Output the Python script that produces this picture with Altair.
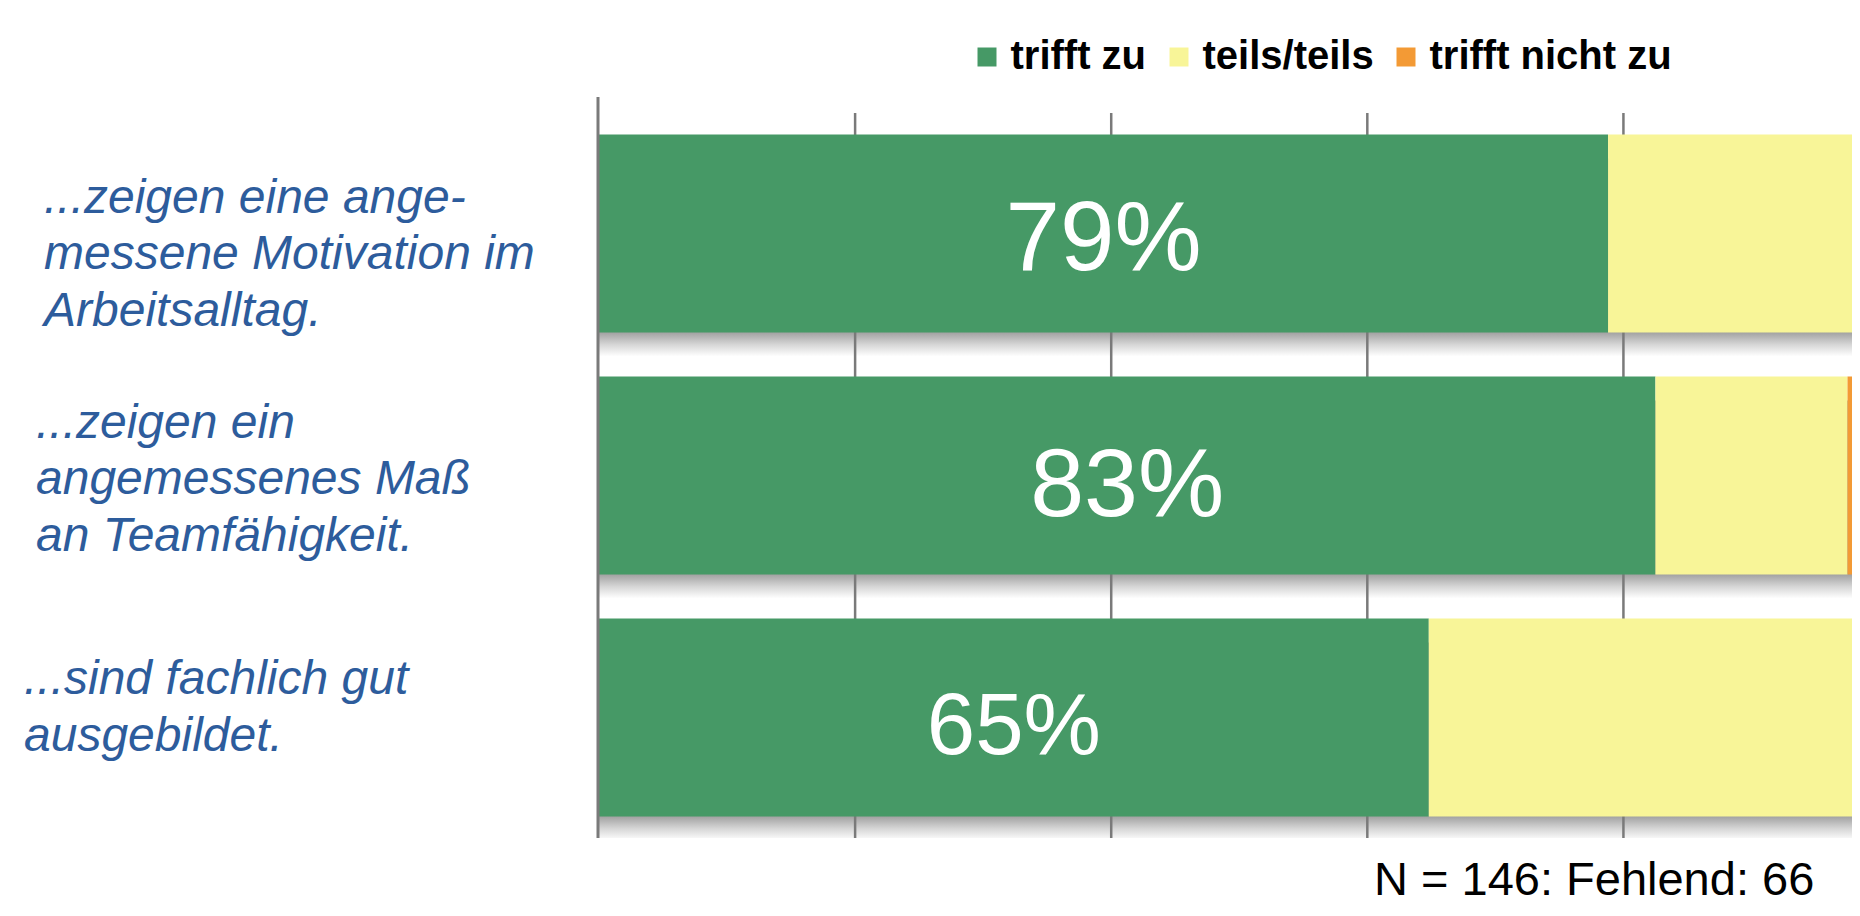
import altair as alt
import pandas as pd

# ---- data -------------------------------------------------------------
item_labels = [
    "...zeigen eine ange-\nmessene Motivation im\nArbeitsalltag.",
    "...zeigen ein\nangemessenes Maß\nan Teamfähigkeit.",
    "...sind fachlich gut\nausgebildet.",
]
categories = ["trifft zu", "teils/teils", "trifft nicht zu"]
trifft_zu = [78.8, 82.5, 64.8]
teils_teils = [20.2, 15.0, 34.2]
trifft_nicht_zu = [1.0, 2.5, 1.0]
pct_labels = ["79%", "83%", "65%"]
grid_ticks = [20, 40, 60, 80, 100]
footnote = "N = 146: Fehlend: 66"

# ---- styles -----------------------------------------------------------
colors = ["#469966", "#f8f598", "#f39a35"]
label_blue = "#2d5c9c"
FONT = "Liberation Sans"
W, H = 1253, 725
x_max = 97.85  # the reference is cropped at the right edge

rows = []
series = [trifft_zu, teils_teils, trifft_nicht_zu]
for i, item in enumerate(item_labels):
    for c, cat in enumerate(categories):
        rows.append({"item": item, "item_idx": i, "category": cat,
                     "cat_idx": c, "value": series[c][i],
                     "pct": pct_labels[i]})
df = pd.DataFrame(rows)

x_scale = alt.Scale(domain=[0, x_max], nice=False, zero=True)
y_enc = alt.Y("item:N", axis=None,
              scale=alt.Scale(domain=item_labels, paddingInner=0.182, paddingOuter=0.089))

base = alt.Chart(df)

shadow_grad = alt.LinearGradient(
    gradient="linear",
    stops=[alt.GradientStop(color="#9a9a9a", offset=0),
           alt.GradientStop(color="#9a9a9a", offset=0.87),
           alt.GradientStop(color="#d6d6d6", offset=0.94),
           alt.GradientStop(color="#ffffff", offset=1)],
    x1=0, x2=0, y1=0, y2=1,
)

shadow = base.mark_bar(color=shadow_grad, yOffset=24, clip=True).encode(
    x=alt.X("sum(value):Q", scale=x_scale, axis=None),
    y=y_enc,
)

grid = alt.Chart(pd.DataFrame({"t": grid_ticks})).mark_rule(
    color="#7a7a7a", strokeWidth=2.5, clip=True
).encode(x=alt.X("t:Q", scale=x_scale, axis=None))

bars = base.mark_bar(clip=True).encode(
    x=alt.X("value:Q", stack="zero", scale=x_scale, axis=None),
    y=y_enc,
    color=alt.Color(
        "category:N",
        scale=alt.Scale(domain=categories, range=colors),
        legend=alt.Legend(
            title=None, orient="none", legendX=368, legendY=-76,
            direction="horizontal", symbolType="square", symbolSize=361,
            symbolStrokeWidth=0, labelFont=FONT, labelFontWeight="bold",
            labelFontSize=40, labelColor="black", labelOffset=3.5,
            columnPadding=12, padding=0, labelLimit=0,
        ),
    ),
    order=alt.Order("cat_idx:Q"),
)

left_line = alt.Chart(pd.DataFrame({"a": [0]})).mark_rule(
    color="#7a7a7a", strokeWidth=3
).encode(x=alt.value(-1), y=alt.value(-16), y2=alt.value(H))

# item labels (left side), per-row placement
ylab_x = [-555, -563, -575]
ylab_dy = [-21, -38, -23]
ylabels = []
for i in range(len(item_labels)):
    ylabels.append(
        base.transform_filter((alt.datum.item_idx == i) & (alt.datum.cat_idx == 0))
        .mark_text(align="left", baseline="alphabetic", lineBreak="\n",
                   lineHeight=56.5, font=FONT, fontStyle="italic",
                   fontSize=48, color=label_blue, dy=ylab_dy[i])
        .encode(x=alt.value(ylab_x[i]), y=y_enc, text="item:N")
    )

# percentage labels in the green segments
pct_size = [98, 97, 87]
pct_dy = [36, 40, 37]
pcts = []
for i in range(len(item_labels)):
    pcts.append(
        base.transform_filter((alt.datum.item_idx == i) & (alt.datum.cat_idx == 0))
        .transform_calculate(mid="datum.value / 2")
        .mark_text(align="center", baseline="alphabetic", font=FONT,
                   fontSize=pct_size[i], color="white", dy=pct_dy[i])
        .encode(x=alt.X("mid:Q", scale=x_scale, axis=None), y=y_enc, text="pct:N")
    )

note = alt.Chart(pd.DataFrame({"note": [footnote]})).mark_text(
    align="left", baseline="alphabetic", font=FONT, fontSize=47, color="black"
).encode(x=alt.value(775), y=alt.value(782), text="note:N")

chart = alt.layer(shadow, grid, bars, left_line, *ylabels, *pcts, note).properties(
    width=W, height=H,
    padding={"left": 591, "top": 105, "right": 0, "bottom": 68},
    autosize=alt.AutoSizeParams(type="none"),
    background="white",
).configure_view(stroke=None)

chart.save("out.html", embed_options={"renderer": "svg", "actions": False})
